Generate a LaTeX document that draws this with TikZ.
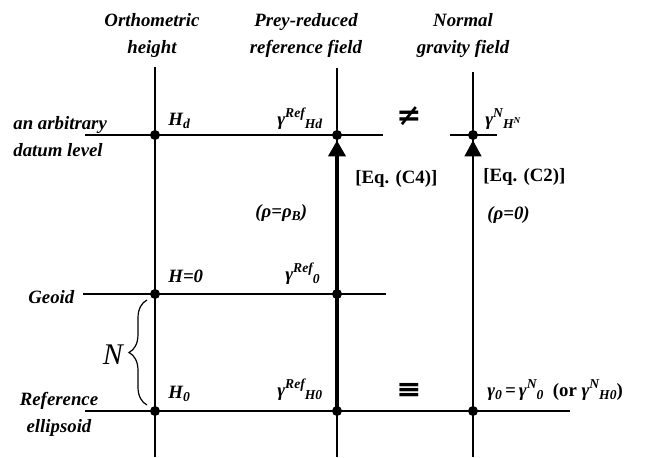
\documentclass[tikz,border=0pt]{standalone}
\usepackage{fontspec}
\setmainfont{Liberation Serif}
\newfontfamily\symfont{DejaVu Serif}
\usepackage{tikz}
\usetikzlibrary{arrows.meta, decorations.pathreplacing}

\newcommand{\supt}[1]{\raisebox{3.6pt}{\fontsize{6.8}{7}\selectfont #1}}
\newcommand{\subt}[1]{\raisebox{-1.8pt}{\fontsize{6.8}{7}\selectfont #1}}
\newcommand{\grav}[2]{γ\supt{#1}\subt{#2}}

\begin{document}
\begin{tikzpicture}[
  x=0.5pt, y=-0.5pt,
  every node/.style={font=\fontsize{9.4}{13.5}\selectfont\bfseries\itshape, inner sep=0pt},
  dot/.style={circle, fill=black, minimum size=5pt},
  level/.style={line width=0.6pt},
  tip/.style={-{Triangle[length=8pt,width=8.5pt]}},
  head/.style={align=center},
  lbl/.style={anchor=base west},
  eqlbl/.style={anchor=base west, font=\fontsize{9.4}{13.5}\selectfont\bfseries},
  rel/.style={font=\fontsize{15}{15}\selectfont\symfont\bfseries}
]
\useasboundingbox (0,0) rectangle (666,457);

% end points of the lines
\foreach \n/\x/\y in {oT/155/67, oB/155/457, rT/337/68, rB/337/457, nT/473/72, nB/473/457,
  dL/85/135, dR/383/135, sL/450/135, sR/497/135, gL/83/294, gR/386/294, eL/85/411, eR/570/411,
  bB/147/405, bT/147/300}{
  \coordinate (\n) at (\x,\y);
}

% column headers
\node[head] (hOrt) at (152,35) {Orthometric\\height};
\node[head] (hRef) at (306,35) {Prey-reduced\\reference field};
\node[head] (hNor) at (463,35) {Normal\\gravity field};

% levels
\node[align=left, anchor=west] (lDat) at (13,137) {an arbitrary\\datum level};
\node[lbl] (lGeo) at (28,303) {Geoid};
\node[head] (lEll) at (59,414) {Reference\\ellipsoid};

\draw[level] (oT) -- (oB);
\draw[level] (rT) -- (rB);
\draw[level] (nT) -- (nB);
\draw[level] (dL) -- (dR);
\draw[level] (sL) -- (sR);
\draw[level] (gL) -- (gR);
\draw[level] (eL) -- (eR);

\foreach \n/\x/\y in {oD/155/135, rD/337/135, nD/473/135, oG/155/294, rG/337/294,
  oE/155/411, rE/337/411, nE/473/411}{
  \node[dot] (\n) at (\x,\y) {};
}

\draw[line width=2.2pt, tip] (rE.center) -- (rD.south);
\draw[level, tip] (nE) -- (nD.south);

\draw[level, decorate, decoration={brace, amplitude=9pt}] (bB) -- (bT);
\node[font=\fontsize{15}{15}\selectfont\itshape] (nN) at (113,355) {N};

% values
\node[lbl] (vHd) at (168,125) {H\subt{d}};
\node[lbl] (vRd) at (277,125) {\grav{Ref}{Hd}};
\node[rel] (vNe) at (409,116) {≠};
\node[lbl] (vNd) at (485,125) {γ\supt{N}\subt{H\raisebox{2.6pt}{\fontsize{4.6}{5}\selectfont N}}};
\node[eqlbl] (eC4) at (355,183) {[Eq. (C4)]};
\node[eqlbl] (eC2) at (483,181) {[Eq. (C2)]};
\node[lbl] (rhB) at (255,217) {(ρ=ρ\subt{B})};
\node[lbl] (rh0) at (487,219) {(ρ=0)};
\node[lbl] (vH0) at (168,282) {H=0};
\node[lbl] (vR0) at (285,280) {\grav{Ref}{0}};
\node[lbl] (vHe) at (168,398) {H\subt{0}};
\node[lbl] (vRe) at (277,396) {\grav{Ref}{H0}};
\node[rel] (vEq) at (409,391) {≡};
\node[lbl] (vNo) at (487,396) {γ\subt{0}\,=\,\grav{N}{0}\ \ {\upshape(or} \grav{N}{H0}{\upshape)}};
\end{tikzpicture}
\end{document}
